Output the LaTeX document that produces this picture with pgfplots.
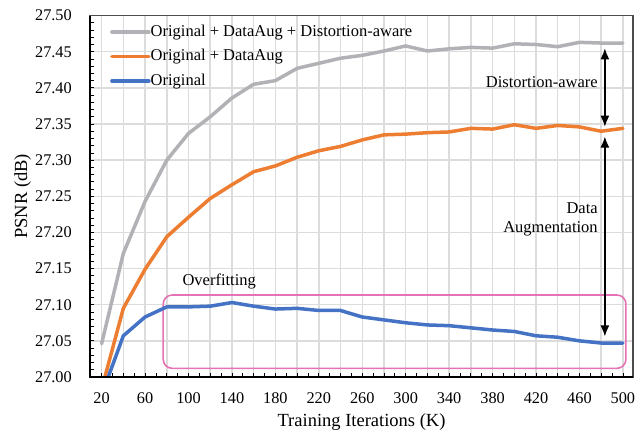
\documentclass[border=0pt]{standalone}
\usepackage{fontspec}
\setmainfont{Liberation Serif}
\usepackage{pgfplots}
\pgfplotsset{compat=1.18}
\usetikzlibrary{arrows.meta}
\definecolor{cgray}{HTML}{B2B2B6}
\definecolor{corange}{HTML}{ED7D31}
\definecolor{cblue}{HTML}{4472C4}
\definecolor{cpink}{HTML}{E472B4}
\definecolor{cgrid}{HTML}{DCDCDC}
\begin{document}
\begin{tikzpicture}
\begin{axis}[
  scale only axis, width=543pt, height=361.4pt,
  xmin=9.3, xmax=509.3, ymin=27, ymax=27.5,
  xtick={20,40,...,500},
  xticklabels={20,,60,,100,,140,,180,,220,,260,,300,,340,,380,,420,,460,,500},
  ytick={27.00,27.05,...,27.501},
  minor x tick num=1, minor y tick num=4,
  tick pos=left, tick align=inside,
  major tick length=4pt, minor tick length=3.5pt,
  tick style={black, line width=0.8pt},
  grid=major,
  major grid style={draw=cgrid, line width=1.5pt},
  axis line style={draw=black!70, line width=1.5pt},
  ticklabel style={font=\fontsize{16.3}{19}\selectfont},
  yticklabel style={/pgf/number format/.cd, fixed, fixed zerofill, precision=2, assume math mode=true,
     /tikz/.cd, anchor=east, inner sep=0pt, xshift=-18pt},
  xticklabel style={anchor=center, inner sep=0pt, yshift=-21.3pt},
  xlabel={Training Iterations (K)},
  ylabel={PSNR (dB)},
  label style={font=\fontsize{18.5}{21}\selectfont},
  xlabel style={at={(axis description cs:0.5,-0.1237)}, anchor=center},
  ylabel style={at={(axis description cs:-0.124,0.5)}, anchor=center},
  legend style={at={(axis description cs:0.0368,0.9754)}, anchor=north west,
     draw=none, fill=none, inner sep=0pt, row sep=9.5pt, column sep=0pt,
     font=\fontsize{16.5}{19}\selectfont,
     nodes={inner sep=0pt, text height=11.5pt, text depth=3.5pt}},
  legend cell align=left,
  legend image code/.code={\draw[#1] (0pt,0pt) -- (37pt,0pt);},
  every axis plot/.append style={line width=3.5pt, line join=round, line cap=round},
]
\draw[cpink, line width=1.6pt, rounded corners=9pt] (axis cs:76.7,27.012) rectangle (axis cs:502.8,27.1134);
\addplot[cgray] coordinates {
(20,27.046) (40,27.171) (60,27.243) (80,27.300) (100,27.337) (120,27.360) (140,27.386)
(160,27.405) (180,27.410) (200,27.427) (220,27.434) (240,27.441) (260,27.445) (280,27.451)
(300,27.458) (320,27.451) (340,27.454) (360,27.456) (380,27.455) (400,27.461) (420,27.460)
(440,27.457) (460,27.463) (480,27.462) (500,27.462)};
\addlegendentry{Original + DataAug + Distortion-aware}
\addplot[corange] coordinates {
(20,26.983) (40,27.095) (60,27.149) (80,27.194) (100,27.221) (120,27.247) (140,27.266)
(160,27.284) (180,27.292) (200,27.304) (220,27.313) (240,27.319) (260,27.328) (280,27.335)
(300,27.336) (320,27.338) (340,27.339) (360,27.344) (380,27.343) (400,27.349) (420,27.344)
(440,27.348) (460,27.346) (480,27.340) (500,27.344)};
\addlegendentry{Original + DataAug}
\addplot[cblue] coordinates {
(20,26.975) (40,27.057) (60,27.083) (80,27.097) (100,27.097) (120,27.098) (140,27.103)
(160,27.098) (180,27.094) (200,27.095) (220,27.092) (240,27.092) (260,27.083) (280,27.079)
(300,27.075) (320,27.072) (340,27.071) (360,27.068) (380,27.065) (400,27.063) (420,27.057)
(440,27.055) (460,27.050) (480,27.047) (500,27.047)};
\addlegendentry{Original}
\draw[{Latex[length=11pt,width=9pt]}-{Latex[length=11pt,width=9pt]}, line width=1.3pt] (axis cs:483.4,27.4547) -- (axis cs:483.4,27.3463);
\draw[{Latex[length=11pt,width=9pt]}-{Latex[length=11pt,width=9pt]}, line width=1.3pt] (axis cs:483.4,27.3325) -- (axis cs:483.4,27.0562);
\node[anchor=east, inner sep=0pt, font=\fontsize{16.5}{19}\selectfont] at (axis cs:477,27.4086) {Distortion-aware};
\node[anchor=east, align=right, inner sep=0pt, font=\fontsize{16.5}{19}\selectfont] at (axis cs:477,27.218) {Data\\Augmentation};
\node[inner sep=0pt, font=\fontsize{16.5}{19}\selectfont] at (axis cs:128.3,27.1318) {Overfitting};
\end{axis}
\draw[black, line width=2pt] (current axis.north west) -- (current axis.south west) -- (current axis.south east);
\pgfresetboundingbox
\path[use as bounding box] ([shift={(-90pt,-58pt)}]current axis.south west) rectangle ([shift={(4pt,15.6pt)}]current axis.north east);
\end{tikzpicture}
\end{document}
